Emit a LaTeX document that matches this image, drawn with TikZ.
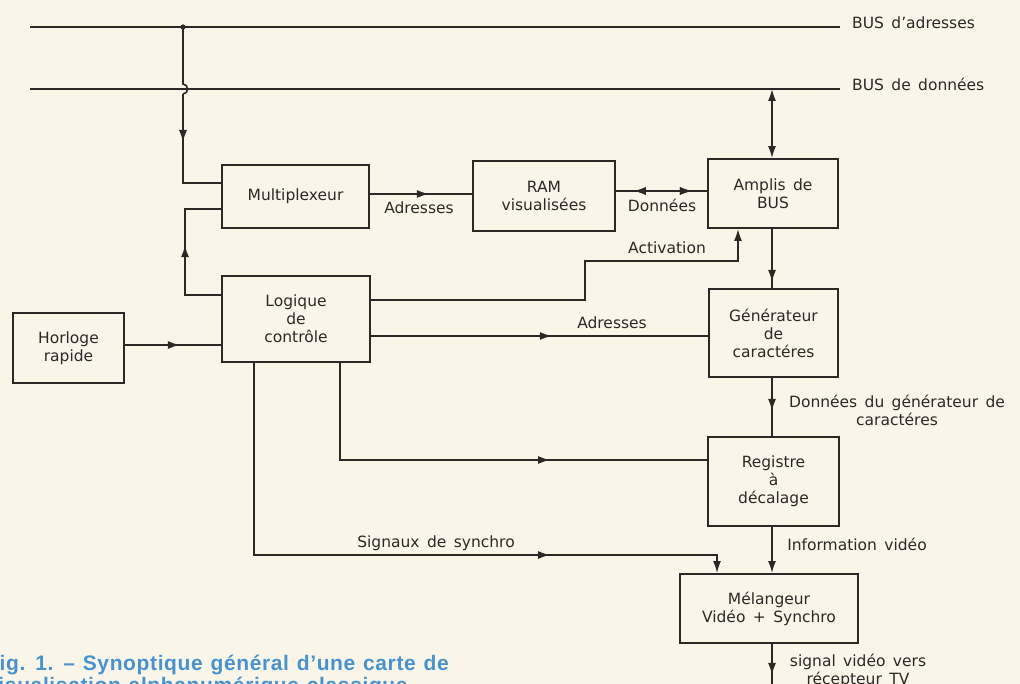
\documentclass[tikz,border=0pt]{standalone}
\usepackage{fontspec}
\setmainfont{DejaVu Sans}[WordSpace=1.5]
\newfontfamily\capfont{Liberation Sans}[LetterSpace=3,WordSpace=1.2]
\usetikzlibrary{arrows.meta,decorations.markings}
\definecolor{paper}{RGB}{249,246,233}
\definecolor{ink}{RGB}{45,40,38}
\definecolor{capblue}{RGB}{72,146,206}
\newcommand\lblfont{\fontsize{15.5}{18}\selectfont}
\newcommand\capfnt{\capfont\bfseries\fontsize{21}{24}\selectfont}
\tikzset{
  blockbox/.style={draw=ink, line width=1.9pt, inner sep=0pt, align=center, font=\lblfont, text=ink},
  wire/.style={color=ink, line width=1.6pt},
  endarrow/.style={-{Latex[length=12pt,width=8pt]}},
  midarr/.style={postaction={decorate}, decoration={markings, mark=at position #1 with {\arrow{Latex[length=12pt,width=8pt]}}}},
  midarrrev/.style={postaction={decorate}, decoration={markings, mark=at position #1 with {\arrowreversed{Latex[length=12pt,width=8pt]}}}},
  lbltext/.style={font=\lblfont, text=ink, inner sep=0pt, align=center},
  captext/.style={font=\capfnt, text=capblue, inner sep=0pt, anchor=base west},
}
\begin{document}
\begin{tikzpicture}[x=1pt,y=-1pt]
\useasboundingbox (0,0) rectangle (1020,684);
\clip (0,0) rectangle (1020,684);
\fill[paper] (0,0) rectangle (1020,684);

% boxes
\node[blockbox, minimum width=147pt, minimum height=63pt] (mux) at (295.5,196.5) {Multiplexeur};
\node[blockbox, minimum width=142pt, minimum height=70pt] (ram) at (544,196) {RAM\\visualisées};
\node[blockbox, minimum width=130pt, minimum height=69pt] (amp) at (773,193.5) {Amplis de\\BUS};
\node[blockbox, minimum width=148pt, minimum height=86pt] (log) at (296,319) {Logique\\de\\contrôle};
\node[blockbox, minimum width=111pt, minimum height=70pt] (hor) at (68.5,348) {Horloge\\rapide};
\node[blockbox, minimum width=129pt, minimum height=88pt] (gen) at (773.5,333) {Générateur\\de\\caractéres};
\node[blockbox, minimum width=131pt, minimum height=89pt] (reg) at (773.5,481.5) {Registre\\à\\décalage};
\node[blockbox, minimum width=178pt, minimum height=69pt] (mel) at (769,608.5) {Mélangeur\\Vidéo + Synchro};

% level coordinates
\coordinate (yData) at (0,89);
\coordinate (addrL) at (30,27);
\coordinate (addrR) at (840,27);
\coordinate (dataL) at (30,89);
\coordinate (dataR) at (840,89);
\coordinate (dot) at (183,27);
\coordinate (hopA) at (183,84);
\coordinate (hopB) at (183,94);
\coordinate (c1) at (183,183);
\coordinate (y183) at (0,183);
\coordinate (y209) at (0,209);
\coordinate (y295) at (0,295);
\coordinate (c2) at (185,295);
\coordinate (c3) at (185,209);
\coordinate (y194) at (0,194);
\coordinate (y191) at (0,191);
\coordinate (y300) at (0,300);
\coordinate (a1) at (585,300);
\coordinate (a2) at (585,261);
\coordinate (a3) at (738,261);
\coordinate (x738) at (738,0);
\coordinate (y336) at (0,336);
\coordinate (y345) at (0,345);
\coordinate (r1) at (340,362);
\coordinate (r2) at (340,460);
\coordinate (y460) at (0,460);
\coordinate (s1) at (254,362);
\coordinate (s2) at (254,555);
\coordinate (s3) at (717,555);
\coordinate (x717) at (717,0);
\coordinate (x772) at (772,0);
\coordinate (outEnd) at (772,700);

% buses
\draw[wire] (addrL) -- (addrR);
\draw[wire] (dataL) -- (dataR);
\node[lbltext, anchor=west] (lbA) at (852,23) {BUS d'adresses};
\node[lbltext, anchor=west] (lbD) at (852,84) {BUS de données};
\fill[ink] (dot) circle (2.6pt);

% address bus -> multiplexeur
\draw[wire] (dot) -- (hopA) .. controls (189,84) and (189,94) .. (hopB);
\draw[wire, midarr=48pt] (hopB) -- (c1) -- (mux.west |- y183);

% logique -> multiplexeur
\draw[wire, midarr=86pt] (log.west |- y295) -- (c2) -- (c3) -- (mux.west |- y209);

% horloge -> logique
\draw[wire, midarr=55pt] (hor.east |- y345) -- (log.west |- y345);

% mux -> ram
\draw[wire, midarr=59pt] (mux.east |- y194) -- (ram.west |- y194);
\node[lbltext] (lAdr1) at (419,208) {Adresses};

% ram <-> amplis
\draw[wire, midarrrev=18pt, midarr=76pt] (ram.east |- y191) -- (amp.west |- y191);
\node[lbltext] (lDon) at (662,205) {Données};

% data bus <-> amplis
\draw[wire, {Latex[length=12pt,width=8pt]}-{Latex[length=12pt,width=8pt]}] (x772 |- yData) -- (x772 |- amp.north);

% activation
\draw[wire, endarrow] (log.east |- y300) -- (a1) -- (a2) -- (a3) -- (x738 |- amp.south);
\node[lbltext] (lAct) at (667,248) {Activation};

% logique -> generateur
\draw[wire, midarr=181pt] (log.east |- y336) -- (gen.west |- y336);
\node[lbltext] (lAdr2) at (612,323) {Adresses};

% amplis -> generateur
\draw[wire, midarr=53pt] (x772 |- amp.south) -- (x772 |- gen.north);

% generateur -> registre
\draw[wire, midarr=33pt] (x772 |- gen.south) -- (x772 |- reg.north);
\node[lbltext] (lDg) at (897,410) {Données du générateur de\\caractéres};

% logique -> registre
\draw[wire, midarr=308pt] (r1) -- (r2) -- (reg.west |- y460);

% synchro
\draw[wire, endarrow, midarr=489pt] (s1) -- (s2) -- (s3) -- (x717 |- mel.north);
\node[lbltext] (lSyn) at (436,543) {Signaux de synchro};

% registre -> melangeur
\draw[wire, endarrow] (x772 |- reg.south) -- (x772 |- mel.north);
\node[lbltext] (lInf) at (857,544) {Information vidéo};

% melangeur -> out
\draw[wire, midarr=31pt] (x772 |- mel.south) -- (outEnd);
\node[lbltext] (lOut) at (858,671) {signal vidéo vers\\récepteur TV};

% caption
\node[captext] (cap1) at (-14,670) {Fig. 1. – Synoptique général d’une carte de};
\node[captext] (cap2) at (-14,692) {visualisation alphanumérique classique};
\end{tikzpicture}
\end{document}
